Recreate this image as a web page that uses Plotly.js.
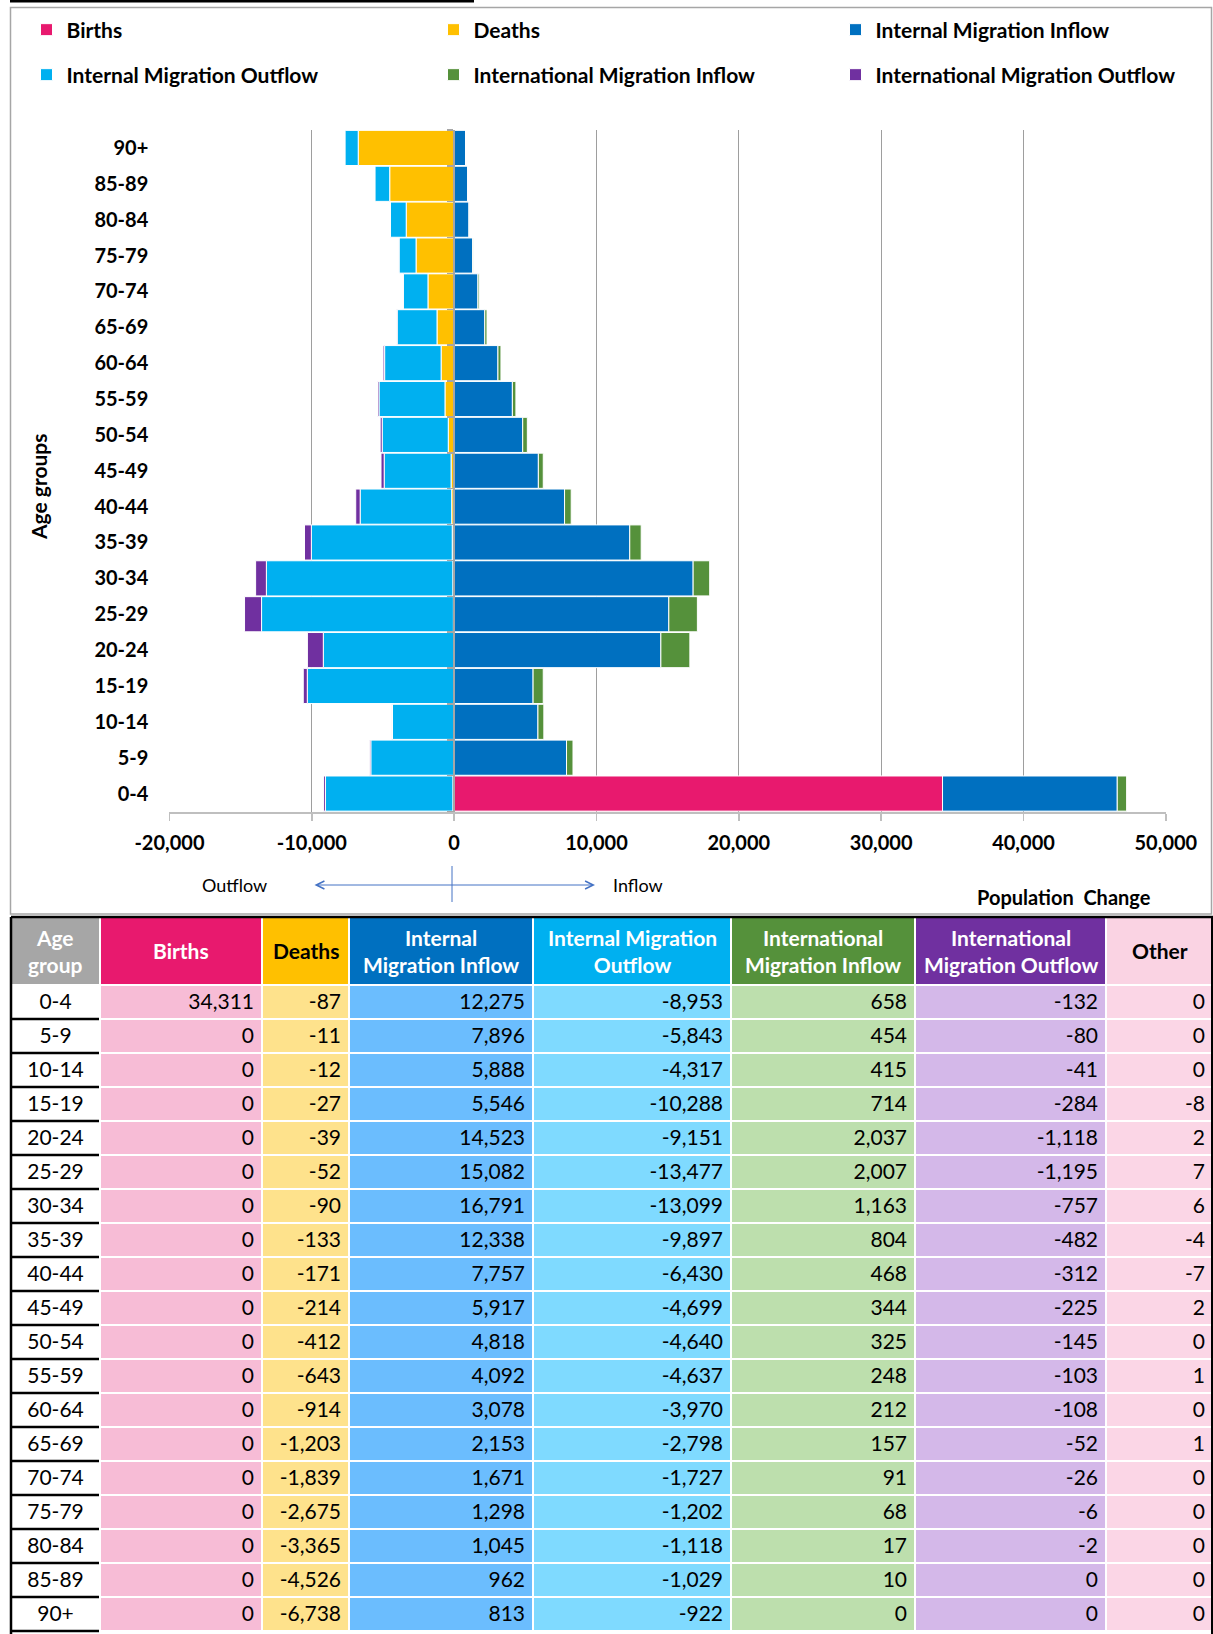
<!DOCTYPE html>
<html><head><meta charset="utf-8">
<script src="https://cdn.plot.ly/plotly-3.0.1.min.js"></script>
<style>body{margin:0;padding:0;background:#fff}#chart{width:1213px;height:1634px}</style>
</head><body><div id="chart"></div>
<script>
// ---------- data ----------
const ageGroups = ['0-4','5-9','10-14','15-19','20-24','25-29','30-34','35-39','40-44','45-49','50-54','55-59','60-64','65-69','70-74','75-79','80-84','85-89','90+'];
const births  = [34311,0,0,0,0,0,0,0,0,0,0,0,0,0,0,0,0,0,0];
const deaths  = [-87,-11,-12,-27,-39,-52,-90,-133,-171,-214,-412,-643,-914,-1203,-1839,-2675,-3365,-4526,-6738];
const intMigIn  = [12275,7896,5888,5546,14523,15082,16791,12338,7757,5917,4818,4092,3078,2153,1671,1298,1045,962,813];
const intMigOut = [-8953,-5843,-4317,-10288,-9151,-13477,-13099,-9897,-6430,-4699,-4640,-4637,-3970,-2798,-1727,-1202,-1118,-1029,-922];
const intlMigIn  = [658,454,415,714,2037,2007,1163,804,468,344,325,248,212,157,91,68,17,10,0];
const intlMigOut = [-132,-80,-41,-284,-1118,-1195,-757,-482,-312,-225,-145,-103,-108,-52,-26,-6,-2,0,0];
const other = [0,0,0,-8,2,7,6,-4,-7,2,0,1,0,1,0,0,0,0,0];
const tickVals = [-20000,-10000,0,10000,20000,30000,40000,50000];
const tableHeaders = ['Age<br>group','Births','Deaths','Internal<br>Migration Inflow','Internal Migration<br>Outflow','International<br>Migration Inflow','International<br>Migration Outflow','Other'];

// ---------- styles ----------
const W = 1213, H = 1634;
const px = x => x / W, py = y => 1 - y / H;
const FONT = 'Lato, "Open Sans", sans-serif';
const C = {births:'#E8196E', deaths:'#FFC000', imi:'#0070C0', imo:'#00B0F0', intlIn:'#55913B', intlOut:'#7030A0'};
const headerFill = ['#A6A6A6', C.births, C.deaths, C.imi, C.imo, C.intlIn, C.intlOut, '#FAD3E3'];
const headerTextColor = ['#fff','#fff','#000','#fff','#fff','#fff','#fff','#000'];
const cellFill = ['#FFFFFF','#F7BCD6','#FEE28C','#6BBDFE','#7FDAFF','#BDDFAD','#D4B8E9','#FBD6E6'];
const colWidths = [89,162,87,184,198,184,191,107];
const tableLeft = 11, tableTop = 917, headerH = 68, rowH = 34;
const legendX = [26.5, 433.5, 835.5], legendY = [30, 75];

const xDom = [px(169.3), px(1166)];
const yDom = [py(811.5), py(130)];
const xRange = [-20010, 50010];
const zeroPos = xDom[0] + (0 - xRange[0]) / (xRange[1] - xRange[0]) * (xDom[1] - xDom[0]);
const fmt = v => v.toLocaleString('en-US');

const legendNames = ['legend','legend2','legend3','legend4','legend5','legend6'];
function bar(name, vals, color, idx) {
  return {type:'bar', orientation:'h', name:name, x:vals, y:ageGroups,
    marker:{color:color, line:{color:'#ffffff', width:1}}, legend:legendNames[idx], hoverinfo:'skip'};
}

const traces = [
  bar('Births', births, C.births, 0),
  bar('Deaths', deaths, C.deaths, 1),
  bar('Internal Migration Inflow', intMigIn, C.imi, 2),
  bar('Internal Migration Outflow', intMigOut, C.imo, 3),
  bar('International Migration Inflow', intlMigIn, C.intlIn, 4),
  bar('International Migration Outflow', intlMigOut, C.intlOut, 5),
  {type:'scatter', mode:'markers', x:ageGroups.map(()=>0), y:ageGroups, yaxis:'y2',
   marker:{opacity:0}, showlegend:false, hoverinfo:'skip'},
  {type:'table',
   domain:{x:[px(tableLeft), 1], y:[0, py(tableTop)]},
   columnwidth: colWidths,
   header:{values: tableHeaders.map(()=>''), height: headerH,
     fill:{color: headerFill}, line:{color:'#ffffff', width:2}},
   cells:{values:[ageGroups, births.map(fmt), deaths.map(fmt), intMigIn.map(fmt), intMigOut.map(fmt),
                  intlMigIn.map(fmt), intlMigOut.map(fmt), other.map(fmt)],
     height: rowH, align:['center','right','right','right','right','right','right','right'],
     fill:{color: cellFill}, line:{color:'#ffffff', width:2},
     font:{family:FONT, size:21, color:'#000'}}
  }
];

const annotations = [
  {text:'Age groups', x:px(38), y:py(487), xref:'paper', yref:'paper', xanchor:'center', yanchor:'middle',
   textangle:-90, showarrow:false, font:{family:FONT, size:21, color:'#000', weight:'bold'}},
  {text:'Outflow', x:px(235), y:py(885), xref:'paper', yref:'paper', xanchor:'center', yanchor:'middle', showarrow:false,
   font:{family:FONT, size:18, color:'#000'}},
  {text:'Inflow', x:px(611), y:py(885), xref:'paper', yref:'paper', xanchor:'left', yanchor:'middle', showarrow:false,
   font:{family:FONT, size:18, color:'#000'}},
  {text:'Population\u00a0\u00a0Change', x:px(1064), y:py(897), xref:'paper', yref:'paper', xanchor:'center', yanchor:'middle',
   showarrow:false, font:{family:FONT, size:20, color:'#000', weight:'bold'}},
  {text:'', x:px(595), y:py(885), xref:'paper', yref:'paper', ax:313-595, ay:0, axref:'pixel', ayref:'pixel',
   showarrow:true, arrowside:'end+start', arrowhead:5, startarrowhead:5, arrowsize:1.6, startarrowsize:1.6,
   arrowwidth:1, arrowcolor:'#4472C4'}
];
let cx = tableLeft;
tableHeaders.forEach((h, i) => {
  annotations.push({text:h, x:px(cx + colWidths[i]/2), y:py(tableTop + headerH/2), xref:'paper', yref:'paper',
    xanchor:'center', yanchor:'middle', align:'center',
    showarrow:false, font:{family:FONT, size:21, color:headerTextColor[i], weight:'bold'}});
  cx += colWidths[i];
});

const shapes = [
  {type:'rect', xref:'paper', yref:'paper', x0:px(10), x1:px(474), y0:py(0), y1:py(2.5), fillcolor:'#000', line:{width:0}},
  {type:'rect', xref:'paper', yref:'paper', x0:px(10.5), x1:px(1211.5), y0:py(7.5), y1:py(914), line:{color:'#A6A6A6', width:1.5}},
  {type:'line', xref:'paper', yref:'paper', x0:px(452), x1:px(452), y0:py(866), y1:py(902), line:{color:'#4472C4', width:1}},
  {type:'line', xref:'paper', yref:'paper', x0:px(tableLeft), x1:1, y0:py(tableTop), y1:py(tableTop), line:{color:'#000', width:2.5}},
  {type:'line', xref:'paper', yref:'paper', x0:px(tableLeft), x1:px(tableLeft), y0:py(tableTop), y1:0, line:{color:'#000', width:2.5}},
  {type:'line', xref:'paper', yref:'paper', x0:px(1212), x1:px(1212), y0:py(tableTop), y1:0, line:{color:'#000', width:2}}
];
ageGroups.forEach((g, i) => {
  const yy = tableTop + headerH + (i + 1) * rowH;
  shapes.push({type:'line', xref:'paper', yref:'paper', x0:px(tableLeft), x1:px(tableLeft + colWidths[0] - 1),
    y0:py(yy), y1:py(yy), line:{color:'#000', width:2.5}});
});

const legendCommon = {orientation:'h', xref:'paper', yref:'paper', xanchor:'left', yanchor:'middle',
  bgcolor:'rgba(0,0,0,0)', borderwidth:0,
  font:{family:FONT, size:21, color:'#000', weight:'bold'}};

const layout = {
  width:W, height:H, margin:{l:0, r:0, t:0, b:0}, paper_bgcolor:'#fff', plot_bgcolor:'#fff',
  barmode:'relative', bargap:0.02, showlegend:true,
  font:{family:FONT},
  xaxis:{domain:xDom, range:xRange, tickvals:tickVals, ticktext:tickVals.map(fmt),
    showgrid:true, gridcolor:'#9E9E9E', gridwidth:1, zeroline:false,
    showline:true, linecolor:'#BFBFBF', linewidth:2, ticks:'outside', ticklen:7, tickwidth:1.5, tickcolor:'#BFBFBF',
    ticklabelstandoff:5, tickfont:{family:FONT, size:20, color:'#000', weight:'bold'}, fixedrange:true},
  yaxis:{domain:yDom, type:'category', categoryorder:'array', categoryarray:ageGroups, range:[-0.5, 18.5],
    showgrid:false, zeroline:false, showline:false, ticks:'outside', ticklen:16, tickcolor:'rgba(0,0,0,0)',
    tickfont:{family:FONT, size:20, color:'#000', weight:'bold'}, fixedrange:true},
  yaxis2:{overlaying:'y', anchor:'free', position:zeroPos, side:'left', type:'category', categoryorder:'array',
    categoryarray:ageGroups, range:[-0.5, 18.5], showgrid:false, zeroline:false, showticklabels:false,
    showline:true, linecolor:'#A6A6A6', linewidth:2, ticks:'outside', ticklen:6, tickwidth:1.5, tickcolor:'#A6A6A6',
    tickson:'boundaries', fixedrange:true},
  annotations: annotations,
  shapes: shapes
};
legendNames.forEach((ln, i) => {
  layout[ln] = Object.assign({}, legendCommon, {x:px(legendX[i % 3]), y:py(legendY[Math.floor(i / 3)])});
});

Plotly.newPlot('chart', traces, layout, {displayModeBar:false, staticPlot:true});
</script>
</body></html>
